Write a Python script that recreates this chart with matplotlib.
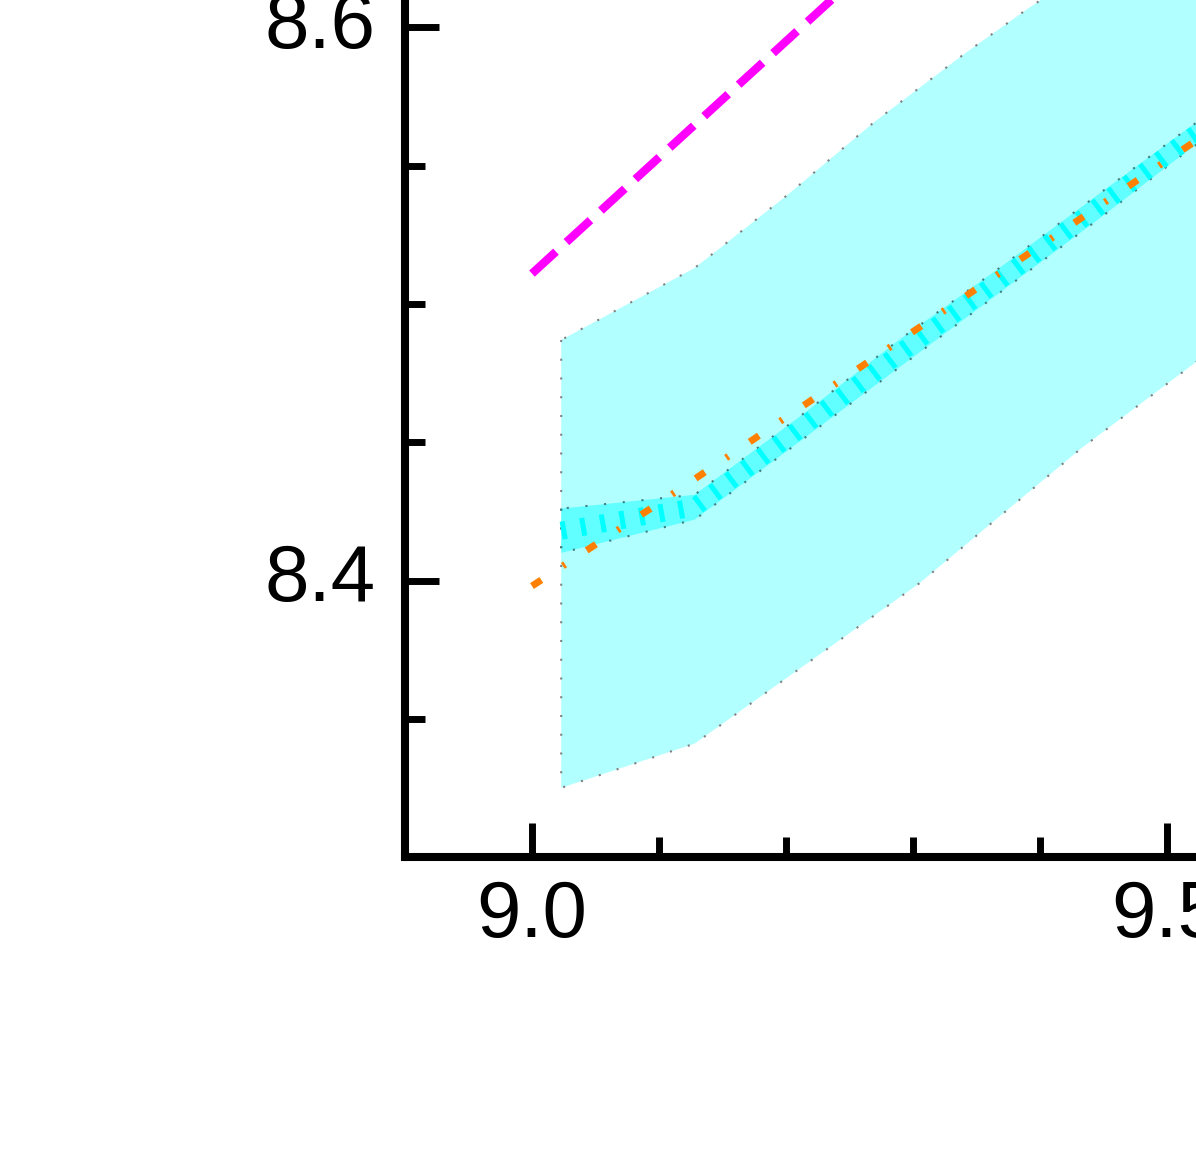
import matplotlib
matplotlib.use("Agg")
from matplotlib import pyplot as plt
from matplotlib.ticker import MultipleLocator
import numpy as np

# values
magenta_x = [9.0, 9.1, 9.2, 9.3, 9.4]
magenta_y = [8.511, 8.553, 8.595, 8.637, 8.679]

orange_x = [9.0, 9.1, 9.2, 9.3, 9.4, 9.5, 9.6]
orange_y = [8.398, 8.428, 8.459, 8.490, 8.521, 8.552, 8.583]

wide_up_x = [9.023, 9.128, 9.2, 9.27, 9.342, 9.391, 9.46, 9.6]
wide_up_y = [8.487, 8.513, 8.539, 8.566, 8.591, 8.607, 8.628, 8.670]
wide_lo_x = [9.023, 9.128, 9.305, 9.433, 9.52, 9.6]
wide_lo_y = [8.325, 8.341, 8.399, 8.448, 8.478, 8.507]

narrow_x = [9.023, 9.128, 9.21, 9.289, 9.368, 9.447, 9.515, 9.6]
narrow_up = [8.426, 8.431, 8.459, 8.487, 8.513, 8.540, 8.563, 8.590]
narrow_lo = [8.410, 8.422, 8.450, 8.477, 8.504, 8.531, 8.555, 8.582]


def main():
    plt.rcParams['font.family'] = ['Liberation Sans', 'DejaVu Sans']

    W, H = 1196, 1151
    fig = plt.figure(figsize=(W / 100, H / 100), dpi=100)

    # axes runs past the right and top edges of the picture
    px_x, px_y = 1270.0, 2765.0
    left, bottom = 405, 857
    right, top = 1400, -150
    ax = fig.add_axes([left / W, (H - bottom) / H, (right - left) / W, (bottom - top) / H])
    ax.set_xlim(8.9, 8.9 + (right - left) / px_x)
    ax.set_ylim(8.3, 8.3 + (bottom - top) / px_y)

    # wide band: merge the two edges onto one x grid for fill_between
    xs = sorted(set(wide_up_x) | set(wide_lo_x))
    up = np.interp(xs, wide_up_x, wide_up_y)
    lo = np.interp(xs, wide_lo_x, wide_lo_y)
    ax.fill_between(xs, lo, up, facecolor=(0, 1, 1, 0.3), edgecolor='gray',
                    linestyle=(0, (1, 8)), linewidth=1.5, zorder=1)

    ax.fill_between(narrow_x, narrow_lo, narrow_up, facecolor=(0, 1, 1, 0.45),
                    edgecolor='#3f7f7f', linestyle=(0, (1, 8)), linewidth=1.5, zorder=2)
    mid = [(a + b) / 2 for a, b in zip(narrow_up, narrow_lo)]
    ax.plot(narrow_x, mid, color='cyan', lw=13, dashes=(0.28, 0.82),
            solid_capstyle='butt', dash_capstyle='butt', zorder=3)

    ax.plot(orange_x, orange_y, color='#ff8000', lw=5,
            dashes=(1.6, 3.7, 0.4, 3.7), zorder=4)
    ax.plot(magenta_x, magenta_y, color='#ff00ff', lw=6,
            dashes=(3.9, 1.7), zorder=4)

    for s in ['top', 'right']:
        ax.spines[s].set_visible(False)
    for s in ['left', 'bottom']:
        ax.spines[s].set_linewidth(5.8)

    ax.xaxis.set_major_locator(MultipleLocator(0.5))
    ax.xaxis.set_minor_locator(MultipleLocator(0.1))
    ax.yaxis.set_major_locator(MultipleLocator(0.2))
    ax.yaxis.set_minor_locator(MultipleLocator(0.05))
    ax.xaxis.set_major_formatter(lambda v, p: "%.1f" % v)
    ax.yaxis.set_major_formatter(lambda v, p: "%.1f" % v)

    ax.tick_params(which='both', direction='in', top=False, right=False, width=5)
    ax.tick_params(which='major', length=24.5, labelsize=57.5)
    ax.tick_params(which='minor', length=14.4)
    ax.tick_params(axis='x', which='major', pad=16)
    ax.tick_params(axis='y', which='major', pad=21)
    for lab in ax.get_yticklabels():
        lab.set_verticalalignment('center')

    fig.savefig("out.png", dpi=100)


if __name__ == "__main__":
    main()
